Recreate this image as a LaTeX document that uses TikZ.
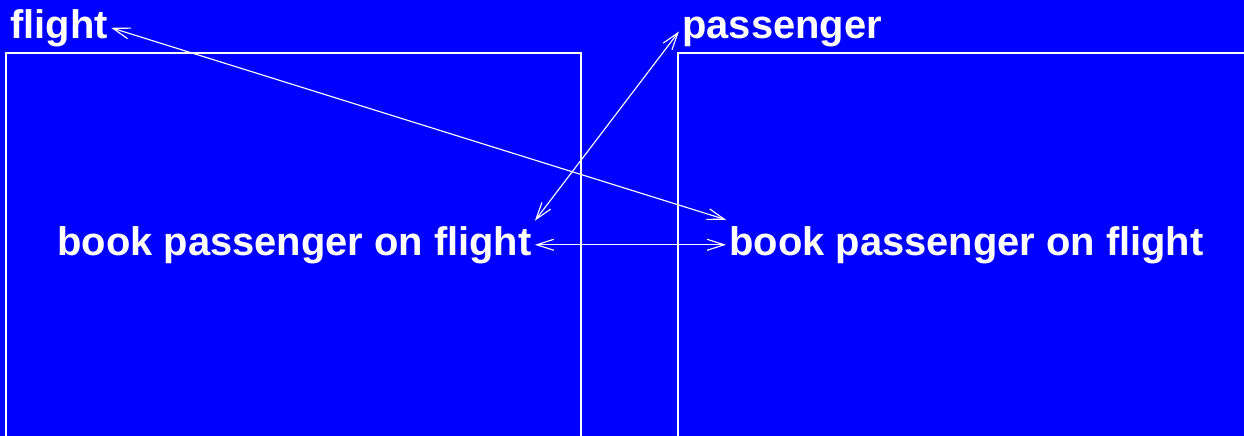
\documentclass[tikz,border=0pt]{standalone}
\usepackage{fontspec}
\setmainfont{Liberation Sans}
\usetikzlibrary{arrows.meta}
\definecolor{bgblue}{RGB}{0,0,255}
\begin{document}
\begin{tikzpicture}[x=0.02cm,y=-0.02cm,
  lbl/.style={anchor=base west,inner sep=0.06cm,text=white,font=\fontsize{22.7}{27}\selectfont\bfseries},
  link/.style={white,line width=0.65pt,{Straight Barb[length=0.34cm,width=0.22cm]}-{Straight Barb[length=0.34cm,width=0.22cm]}}]
\useasboundingbox[fill=bgblue] (0,0) rectangle (1244,436);
% the two boxes
\draw[white,line width=0.7pt] (6,440)--(6,53)--(581,53)--(581,440);
\draw[white,line width=0.7pt] (678,440)--(678,53)--(1250,53);
\node[lbl] (flight) at (7,38) {flight};
\node[lbl] (passenger) at (679,38) {passenger};
\node[lbl] (bookL) at (54,255) {book passenger on flight};
\node[lbl] (bookR) at (726,255) {book passenger on flight};
% connectors
\draw[link] (flight.east) -- ([yshift=0.06cm]bookR.north west);
\draw[link] (passenger.west) -- ([yshift=0.04cm]bookL.north east);
\draw[link] (bookL.east) -- (bookR.west);
\end{tikzpicture}
\end{document}
